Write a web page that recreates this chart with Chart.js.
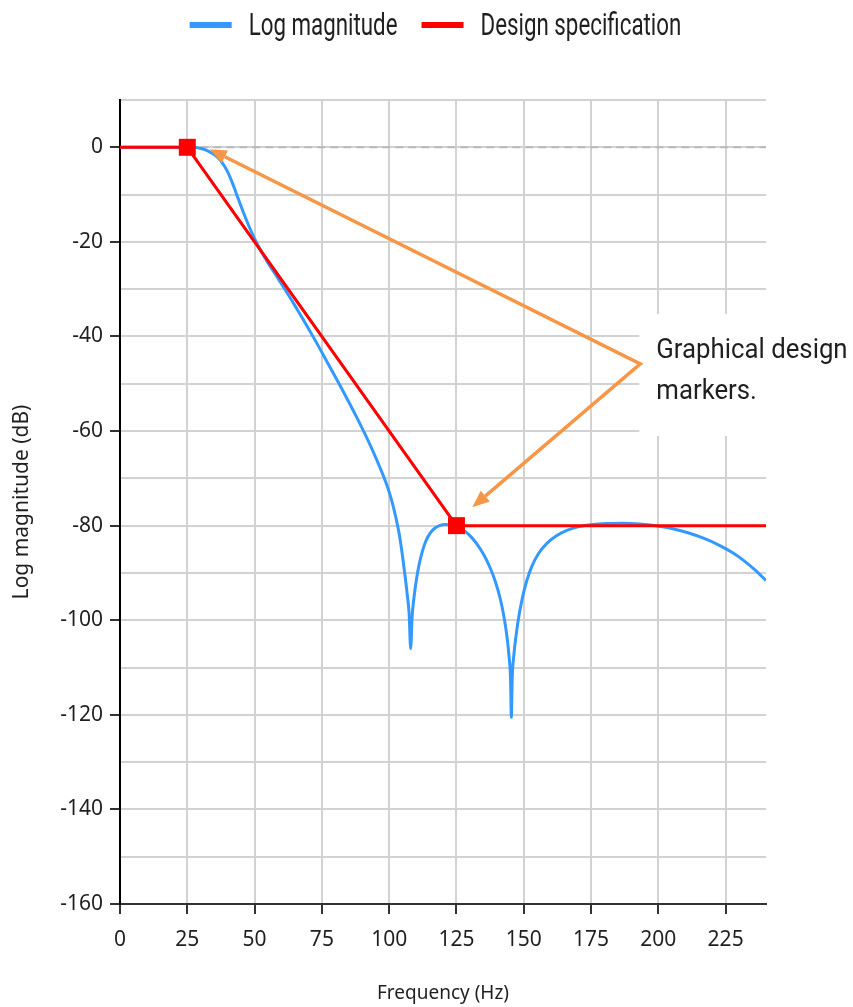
<!DOCTYPE html>
<html>
<head>
<meta charset="utf-8">
<script src="https://cdn.jsdelivr.net/npm/chart.js@4.4.1/dist/chart.umd.min.js"></script>
<style>
  html, body { margin: 0; padding: 0; background: #ffffff; }
  canvas { display: block; }
</style>
</head>
<body>
<canvas id="chart" width="853" height="1007"></canvas>
<script>
// ---------------- data ----------------
const freqHz = [0, 10, 20, 26, 28, 30, 32, 34, 36, 38, 40, 42, 44, 46, 48, 50, 52, 54, 56, 58, 60, 62,
  64.5, 67, 70, 73, 76, 79, 82, 85, 88, 91, 94, 96.5, 98.8, 100.8, 102.5, 103.8, 104.9, 105.9, 106.7, 107.4, 108,
  108.5, 109.2, 110.1, 111.1, 112.3, 113.6, 115.1, 116.8, 118.7, 120.8, 123, 125,
  127.5, 130, 132.5, 135, 137.5, 139.5, 141.2, 142.6, 143.7, 144.6, 145.1, 145.4,
  145.7, 146.3, 147.2, 148.3, 149.6, 151.2, 153, 155.5, 158.5, 162, 166, 170.5, 175.5, 181, 187, 193,
  199, 205, 211, 217, 222.5, 227.5, 232, 236, 240];
const logMagnitudeDb = [0, 0, 0, 0, -0.05, -0.25, -0.6, -1.2, -2.0, -3.3, -5.2, -7.9, -11.0, -14.0, -16.8, -19.3, -21.5, -23.5, -25.35, -27.1, -28.9, -30.7,
  -33.0, -35.4, -38.3, -41.3, -44.4, -47.5, -50.65, -53.85, -57.15, -60.6, -64.3, -67.6, -70.9, -74.4, -78.3, -82.0, -86.2, -90.6, -94.5, -98.5, -106,
  -99.5, -95.3, -91.5, -88.3, -85.5, -83.3, -81.7, -80.6, -80.0, -79.75, -79.85, -80.2,
  -80.9, -82.1, -83.8, -86.0, -88.9, -91.9, -95.3, -99.1, -103.2, -108, -112.5, -120.5,
  -112.5, -107.5, -103, -98.8, -95, -91.5, -88.6, -85.9, -83.8, -82.2, -81.0, -80.2, -79.75, -79.55, -79.5, -79.65,
  -80.0, -80.6, -81.5, -82.7, -84.1, -85.7, -87.5, -89.4, -91.6];

const specFreqHz = [0, 25, 125, 240];
const specDb = [0, 0, -80, -80];
const specMarkerShown = [false, true, true, false];

const refLineFreqHz = [25, 240];
const refLineDb = [0, 0];

const xMin = 0, xMax = 240, xStep = 25;
const yMin = -160, yMax = 10, yGridStep = 10, yLabelStep = 20;

const seriesLabels = ['Design specification', 'Log magnitude'];
const annotationLines = ['Graphical design', 'markers.'];
const annotationKnee = { x: 193.3, y: -45.8 };
const annotationTips = [{ x: 33.3, y: -0.4 }, { x: 130.9, y: -76.1 }];

// ---------------- styles ----------------
const BLUE = '#3399ff';
const RED = '#ff0000';
const ORANGE = '#f79646';
const GRID = '#d2d2d2';
const TEXT = '#1f1f1f';

const toPoints = (xs, ys) => xs.map((x, i) => ({ x: x, y: ys[i] }));

function drawArrowPath(ctx, knee, tips) {
  const headLen = 17, headW = 14;
  const bases = tips.map(t => {
    const ang = Math.atan2(t.y - knee.y, t.x - knee.x);
    return { ang: ang, bx: t.x - headLen * Math.cos(ang), by: t.y - headLen * Math.sin(ang), t: t };
  });
  ctx.save();
  ctx.strokeStyle = ORANGE;
  ctx.lineWidth = 3.5;
  ctx.lineJoin = 'miter';
  ctx.beginPath();
  ctx.moveTo(bases[0].bx, bases[0].by);
  ctx.lineTo(knee.x, knee.y);
  ctx.lineTo(bases[1].bx, bases[1].by);
  ctx.stroke();
  ctx.fillStyle = ORANGE;
  bases.forEach(b => {
    const s = Math.sin(b.ang), c = Math.cos(b.ang);
    ctx.beginPath();
    ctx.moveTo(b.t.x, b.t.y);
    ctx.lineTo(b.bx + headW / 2 * s, b.by - headW / 2 * c);
    ctx.lineTo(b.bx - headW / 2 * s, b.by + headW / 2 * c);
    ctx.closePath();
    ctx.fill();
  });
  ctx.restore();
}

const overlayPlugin = {
  id: 'overlay',
  beforeDatasetsDraw(chart) {
    const { ctx, scales } = chart;
    const kx = scales.x.getPixelForValue(annotationKnee.x);
    const ky = scales.y.getPixelForValue(annotationKnee.y);
    ctx.save();
    ctx.fillStyle = '#ffffff';
    ctx.fillRect(kx - 1, ky - 50, chart.width - kx + 1, 122);
    ctx.restore();
  },
  afterDatasetsDraw(chart) {
    const { ctx, scales } = chart;
    const knee = { x: scales.x.getPixelForValue(annotationKnee.x), y: scales.y.getPixelForValue(annotationKnee.y) };
    const tips = annotationTips.map(t => ({ x: scales.x.getPixelForValue(t.x), y: scales.y.getPixelForValue(t.y) }));
    drawArrowPath(ctx, knee, tips);
    ctx.save();
    ctx.font = '28px Roboto';
    ctx.fillStyle = TEXT;
    ctx.textBaseline = 'alphabetic';
    annotationLines.forEach((line, i) => {
      ctx.save();
      ctx.translate(knee.x + 16, knee.y - 6 + i * 41);
      ctx.scale(0.92, 1);
      ctx.fillText(line, 0, 0);
      ctx.restore();
    });
    ctx.restore();
  },
  afterDraw(chart) {
    const ctx = chart.ctx;
    const order = [1, 0];
    const sx = 0.72, sw = 42, sh = 6, gapText = 17, gapItem = 24;
    ctx.save();
    ctx.font = '31px Roboto';
    const items = order.map(i => {
      const ds = chart.data.datasets[i];
      return { text: ds.label, color: ds.borderColor, w: ctx.measureText(ds.label).width * sx };
    });
    const total = items.reduce((a, it) => a + sw + gapText + it.w, 0) + gapItem * (items.length - 1);
    let x = (chart.width - total) / 2 + 9;
    items.forEach(it => {
      ctx.fillStyle = it.color;
      ctx.fillRect(x, 22, sw, sh);
      x += sw + gapText;
      ctx.save();
      ctx.translate(x, 35);
      ctx.scale(sx, 1);
      ctx.fillStyle = TEXT;
      ctx.fillText(it.text, 0, 0);
      ctx.restore();
      x += it.w + gapItem;
    });
    ctx.restore();
  }
};

function build() {
  new Chart(document.getElementById('chart'), {
    type: 'line',
    data: {
      datasets: [
        {
          label: seriesLabels[0],
          data: toPoints(specFreqHz, specDb),
          borderColor: RED,
          backgroundColor: RED,
          borderWidth: 3,
          tension: 0,
          pointStyle: 'rect',
          pointRadius: specMarkerShown.map(s => s ? 12 : 0),
          pointBackgroundColor: RED,
          pointBorderColor: RED,
          pointBorderWidth: 0
        },
        {
          label: seriesLabels[1],
          data: toPoints(freqHz, logMagnitudeDb),
          borderColor: BLUE,
          backgroundColor: BLUE,
          borderWidth: 3,
          cubicInterpolationMode: 'monotone',
          pointRadius: 0
        },
        {
          label: 'reference',
          data: toPoints(refLineFreqHz, refLineDb),
          borderColor: '#b9b9b9',
          borderWidth: 2,
          borderDash: [8, 5],
          pointRadius: 0,
          tension: 0
        }
      ]
    },
    options: {
      responsive: false,
      animation: false,
      devicePixelRatio: 1,
      events: [],
      layout: { padding: { top: 100, right: 87, left: 0, bottom: 0 } },
      plugins: { legend: { display: false }, tooltip: { enabled: false } },
      scales: {
        x: {
          type: 'linear', min: xMin, max: xMax,
          ticks: { stepSize: xStep, includeBounds: false, autoSkip: false, maxRotation: 0,
                   font: { family: 'Noto Sans', size: 21 }, color: TEXT, padding: 13 },
          grid: { color: GRID, lineWidth: 2, tickLength: 10, tickColor: '#333333', tickWidth: 2 },
          border: { color: '#333333', width: 2 },
          title: { display: true, text: 'Frequency (Hz)', color: TEXT,
                   font: { family: 'Noto Sans', size: 19 }, padding: { top: 0, bottom: 2 } },
          afterFit(s) { s.height = 103; }
        },
        y: {
          type: 'linear', min: yMin, max: yMax,
          ticks: { stepSize: yGridStep, autoSkip: false,
                   callback: v => (v % yLabelStep === 0 ? String(v) : ''),
                   font: { family: 'Noto Sans', size: 21 }, color: TEXT, padding: 7 },
          grid: { color: GRID, lineWidth: 2, tickLength: 10, tickWidth: 2,
                  tickColor: c => (c.tick && c.tick.value % yLabelStep === 0 ? '#333333' : 'rgba(0,0,0,0)') },
          border: { color: '#000000', width: 2 },
          title: { display: true, text: 'Log magnitude (dB)', color: TEXT,
                   font: { family: 'Noto Sans', size: 21 }, padding: { top: 9, bottom: 0 } },
          afterFit(s) { s.width = 120; }
        }
      }
    },
    plugins: [overlayPlugin]
  });
}

if (document.fonts && document.fonts.load) {
  Promise.all([
    document.fonts.load('28px Roboto'),
    document.fonts.load('21px "Noto Sans"')
  ]).then(build, build);
} else {
  build();
}
</script>
</body>
</html>
